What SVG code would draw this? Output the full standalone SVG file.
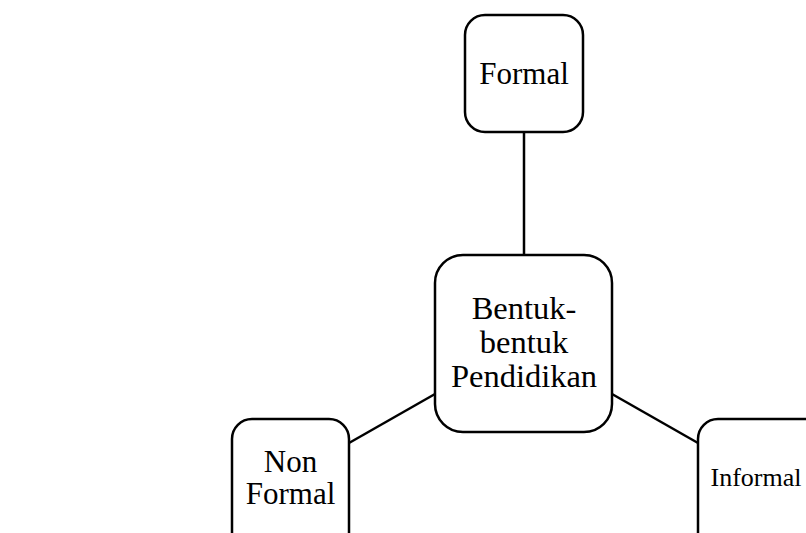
<svg xmlns="http://www.w3.org/2000/svg" width="806" height="533" viewBox="0 0 806 533">
<style>
.box{fill:#fff;stroke:#000;stroke-width:2.5}
.conn{stroke:#000;stroke-width:2.5;fill:none}
text{font-family:"Liberation Serif","Times New Roman",serif;fill:#000;text-anchor:middle}
</style>
<rect width="806" height="533" fill="#fff"/>
<g id="connectors">
<line class="conn" x1="524" y1="132" x2="524" y2="255"/>
<line class="conn" x1="349" y1="443" x2="435" y2="394"/>
<line class="conn" x1="612" y1="394" x2="698" y2="443"/>
</g>
<g id="formal">
<rect class="box" x="465" y="15" width="118" height="117" rx="20"/>
<text x="524" y="84" font-size="31">Formal</text>
</g>
<g id="center">
<rect class="box" x="435" y="255" width="177" height="177" rx="28"/>
<text font-size="32.5"><tspan x="524" y="319">Bentuk-</tspan><tspan x="524" y="353">bentuk</tspan><tspan x="524" y="387">Pendidikan</tspan></text>
</g>
<g id="nonformal">
<rect class="box" x="232" y="419" width="117" height="140" rx="20"/>
<text font-size="31"><tspan x="290.5" y="472">Non</tspan><tspan x="290.5" y="504">Formal</tspan></text>
</g>
<g id="informal">
<rect class="box" x="698" y="419" width="140" height="140" rx="20"/>
<text x="756" y="486" font-size="26">Informal</text>
</g>
</svg>
